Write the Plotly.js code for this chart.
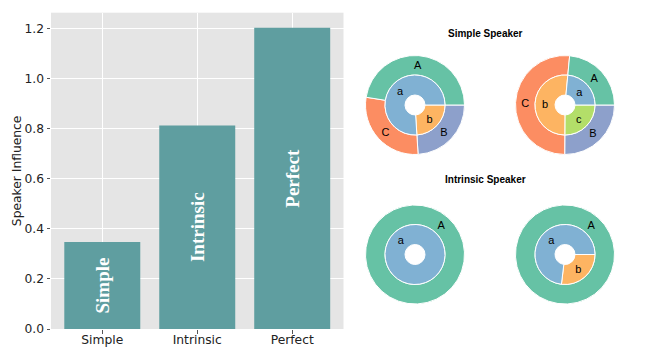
<!DOCTYPE html>
<html>
<head>
<meta charset="utf-8">
<script src="https://cdn.plot.ly/plotly-3.0.1.min.js"></script>
<style>html,body{margin:0;padding:0;background:#fff}#chart{width:664px;height:358px}</style>
</head>
<body>
<div id="chart"></div>
<script>
// ---- Data ----
const categories = ["Simple", "Intrinsic", "Perfect"];
const influence = [0.347, 0.813, 1.203];
const barLabels = ["Simple", "Intrinsic", "Perfect"];

// Simple speaker donuts (slices listed clockwise from 3 o'clock)
const s1OuterLabels = ["B", "C", "A"];
const s1OuterValues = [0.240, 0.285, 0.475];
const s1InnerLabels = ["b", "a"];
const s1InnerValues = [0.240, 0.760];

const s2OuterLabels = ["B", "C", "A"];
const s2OuterValues = [0.251, 0.514, 0.235];
const s2InnerLabels = ["c", "b", "a"];
const s2InnerValues = [0.251, 0.514, 0.235];

// Intrinsic speaker donuts
const i1OuterLabels = ["A"];
const i1OuterValues = [1.0];
const i1InnerLabels = ["a"];
const i1InnerValues = [1.0];

const i2OuterLabels = ["A"];
const i2OuterValues = [1.0];
const i2InnerLabels = ["b", "a"];
const i2InnerValues = [0.269, 0.731];

// ---- Styling ----
const W = 664, H = 358;
const outerColors = {A: "#66c2a5", B: "#8da0cb", C: "#fc8d62"};
const innerColors = {a: "#80b1d3", b: "#fdb462", c: "#b3de69"};

function dom(cx, cy, r) {
  return {x: [(cx - r) / W, (cx + r) / W], y: [1 - (cy + r) / H, 1 - (cy - r) / H]};
}
const R_OUT = 49.5, R_IN = 30, R_HOLE = 10;

function ring(labels, values, colors, cx, cy, r, hole, rotation) {
  return {
    type: "pie", labels: labels, values: values, sort: false,
    direction: "clockwise", rotation: rotation,
    hole: hole, domain: dom(cx, cy, r),
    marker: {colors: labels.map(l => colors[l]), line: {color: "#ffffff", width: 1}},
    textinfo: "label", textposition: "inside", insidetextorientation: "horizontal",
    textfont: {family: "Liberation Sans, Arial, sans-serif", size: 11, color: "#000000"},
    showlegend: false, hoverinfo: "none"
  };
}

const bar = {
  type: "bar", x: categories, y: influence, width: 0.8,
  marker: {color: "#5f9ea0"},
  text: barLabels, textposition: "inside", insidetextanchor: "middle", textangle: -90,
  textfont: {family: "Liberation Serif, Times New Roman, serif", size: 19, color: "#ffffff", weight: "bold"},
  constraintext: "none",
  hoverinfo: "none", showlegend: false
};

const traces = [
  bar,
  ring(s1OuterLabels, s1OuterValues, outerColors, 415, 105, R_OUT, R_IN / R_OUT, 90),
  ring(s1InnerLabels, s1InnerValues, innerColors, 415, 105, R_IN, R_HOLE / R_IN, 90),
  ring(s2OuterLabels, s2OuterValues, outerColors, 565, 105, R_OUT, R_IN / R_OUT, 90),
  ring(s2InnerLabels, s2InnerValues, innerColors, 565, 105, R_IN, R_HOLE / R_IN, 90),
  ring(i1OuterLabels, i1OuterValues, outerColors, 415, 254.5, R_OUT, R_IN / R_OUT, 222),
  ring(i1InnerLabels, i1InnerValues, innerColors, 415, 254.5, R_IN, R_HOLE / R_IN, 137),
  ring(i2OuterLabels, i2OuterValues, outerColors, 565, 254.5, R_OUT, R_IN / R_OUT, 222),
  ring(i2InnerLabels, i2InnerValues, innerColors, 565, 254.5, R_IN, R_HOLE / R_IN, 90)
];

const tickFont = {family: "DejaVu Sans, sans-serif", size: 12.3, color: "#222222"};

const layout = {
  width: W, height: H,
  margin: {l: 0, r: 0, t: 0, b: 0, pad: 0},
  paper_bgcolor: "#ffffff", plot_bgcolor: "#e5e5e5",
  font: {family: "DejaVu Sans, sans-serif", color: "#222222"},
  xaxis: {
    domain: [51 / W, 343.5 / W], range: [-0.54, 2.54], type: "category",
    showgrid: true, gridcolor: "#ffffff", gridwidth: 1, zeroline: false, showline: false,
    ticks: "outside", ticklen: 3.5, tickcolor: "#555555", tickwidth: 1,
    ticklabelstandoff: -4,
    tickfont: tickFont, fixedrange: true
  },
  yaxis: {
    domain: [1 - 329 / H, 1 - 12.7 / H], range: [0, 1.263],
    dtick: 0.2, tick0: 0, tickformat: ".1f",
    showgrid: true, gridcolor: "#ffffff", gridwidth: 1, zeroline: false, showline: false,
    ticks: "outside", ticklen: 3.5, tickcolor: "#555555", tickwidth: 1,
    tickfont: tickFont, fixedrange: true,
    title: {text: "Speaker Influence", font: {family: "DejaVu Sans, sans-serif", size: 12.3, color: "#222222"}, standoff: 0}
  },
  annotations: [
    {text: "<b>Simple Speaker</b>", x: 485.5 / W, y: 1 - 33 / H, xref: "paper", yref: "paper",
     xanchor: "center", yanchor: "middle", showarrow: false,
     font: {family: "Liberation Sans, Arial, sans-serif", size: 10, color: "#000000"}},
    {text: "<b>Intrinsic Speaker</b>", x: 485.5 / W, y: 1 - 179 / H, xref: "paper", yref: "paper",
     xanchor: "center", yanchor: "middle", showarrow: false,
     font: {family: "Liberation Sans, Arial, sans-serif", size: 10, color: "#000000"}}
  ]
};

Plotly.newPlot("chart", traces, layout, {staticPlot: true, displayModeBar: false});
</script>
</body>
</html>
